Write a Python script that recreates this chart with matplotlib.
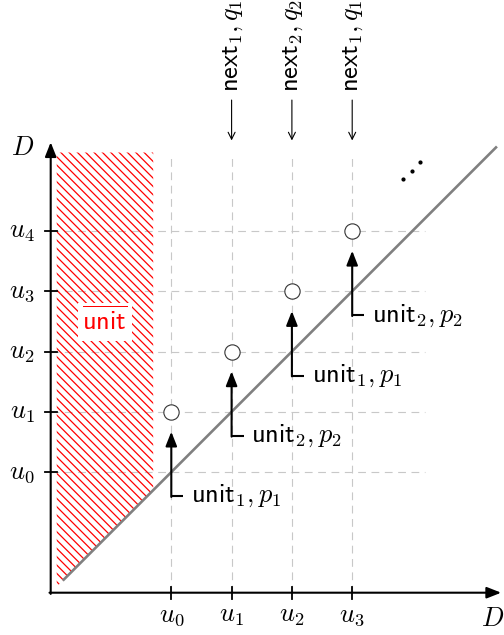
import numpy as np
import matplotlib
matplotlib.use("Agg")
import matplotlib.pyplot as plt
from matplotlib.patches import Polygon

plt.rcParams["mathtext.fontset"] = "cm"
plt.rcParams["hatch.linewidth"] = 0.9

# positions of u_0..u_4 on both axes (axis units)
u_vals = [2, 3, 4, 5, 6]
x_tick_labels = [r"$u_0$", r"$u_1$", r"$u_2$", r"$u_3$"]
y_tick_labels = [r"$u_0$", r"$u_1$", r"$u_2$", r"$u_3$", r"$u_4$"]

# open circles: (u_i, u_{i+1})
circ_x = [2, 3, 4, 5]
circ_y = [3, 4, 5, 6]

# L-shaped arrows below each circle
unit_labels = [r"$\mathsf{unit}_1, p_1$", r"$\mathsf{unit}_2, p_2$",
               r"$\mathsf{unit}_1, p_1$", r"$\mathsf{unit}_2, p_2$"]

# arrows coming from the top
next_x = [3, 4, 5]
next_labels = [r"$\mathsf{next}_1, q_1$", r"$\mathsf{next}_2, q_2$",
               r"$\mathsf{next}_1, q_1$"]

# diagonal D = D
diag_x = [0.2, 7.4]
diag_y = [0.2, 7.4]

# hatched "unit-bar" region
hatch_x = [0.1, 1.7, 1.7, 0.1]
hatch_y = [7.3, 7.3, 1.7, 0.1]

# the iddots
dots_x = [5.85, 5.99, 6.13]
dots_y = [6.86, 7.0, 7.14]

fig = plt.figure(figsize=(5.04, 6.35), dpi=100)
ax = fig.add_axes([0, 0, 1, 1])
px = 60.3
ax.set_xlim(-50.7 / px, (504 - 50.7) / px)
ax.set_ylim(-(635 - 592.7) / px, 592.7 / px)
ax.set_aspect("equal")
ax.axis("off")

FS = 19
grid_kw = dict(color="#c8c8c8", lw=0.8, dashes=(7, 5), zorder=1)

# dashed helper lines
for u in u_vals[:4]:
    ax.plot([u, u], [0, 7.3], **grid_kw)
for u in u_vals:
    ax.plot([0, 6.2], [u, u], **grid_kw)

# hatched region
ax.add_patch(Polygon(list(zip(hatch_x, hatch_y)), closed=True, facecolor="none",
                     edgecolor="red", hatch="\\\\\\\\", lw=0, zorder=2))
ax.text(0.9, 4.49, r"$\overline{\mathsf{unit}}$", color="red", fontsize=FS,
        ha="center", va="center", zorder=4,
        bbox=dict(facecolor="white", edgecolor="none", pad=3))

# diagonal
ax.plot(diag_x, diag_y, color="#808080", lw=1.9, solid_capstyle="butt", zorder=3)

# axes with arrows
head = "-|>,head_length=0.86,head_width=0.34"
ax.annotate("", xy=(7.47, 0), xytext=(-0.02, 0),
            arrowprops=dict(arrowstyle=head, color="black", lw=1.5,
                            mutation_scale=10, shrinkA=0, shrinkB=0), zorder=5)
ax.annotate("", xy=(0, 7.47), xytext=(0, -0.02),
            arrowprops=dict(arrowstyle=head, color="black", lw=1.5,
                            mutation_scale=10, shrinkA=0, shrinkB=0), zorder=5)
ax.text(-0.46, 7.38, r"$D$", fontsize=FS, ha="center", va="center")
ax.text(7.14, -0.43, r"$D$", fontsize=FS, ha="left", va="center")

# ticks and tick labels
for u, lab in zip(u_vals[:4], x_tick_labels):
    ax.plot([u, u], [-0.1, 0.1], color="black", lw=1.3, zorder=5)
    ax.text(u, -0.37, lab, fontsize=FS, ha="center", va="center")
for u, lab in zip(u_vals, y_tick_labels):
    ax.plot([-0.1, 0.1], [u, u], color="black", lw=1.3, zorder=5)
    ax.text(-0.27, u, lab, fontsize=FS, ha="right", va="center")

# open circles
ax.plot(circ_x, circ_y, "o", ms=11, mfc="white", mec="#333333", mew=0.8, zorder=6)

# L-shaped arrows with unit labels
for cx, cy, lab in zip(circ_x, circ_y, unit_labels):
    base = cx - 0.4
    ax.plot([cx + 0.2, cx], [base, base], color="black", lw=1.5,
            solid_capstyle="butt", zorder=6)
    ax.annotate("", xy=(cx, cy - 0.33), xytext=(cx, base - 0.012),
                arrowprops=dict(arrowstyle=head, color="black", lw=1.5,
                                mutation_scale=10, shrinkA=0, shrinkB=0), zorder=6)
    ax.text(cx + 0.33, base, lab, fontsize=FS, ha="left", va="center")

# arrows from the top
for nx, lab in zip(next_x, next_labels):
    ax.annotate("", xy=(nx, 7.5), xytext=(nx, 8.17),
                arrowprops=dict(arrowstyle="->,head_length=0.5,head_width=0.25",
                                color="black", lw=0.8, mutation_scale=10,
                                shrinkA=0, shrinkB=0), annotation_clip=False)
    ax.text(nx, 8.3, lab, fontsize=FS, rotation=90, rotation_mode="anchor",
            ha="left", va="center")

# iddots
ax.plot(dots_x, dots_y, "o", color="black", ms=2, zorder=6)

fig.savefig("out.png", dpi=100)
